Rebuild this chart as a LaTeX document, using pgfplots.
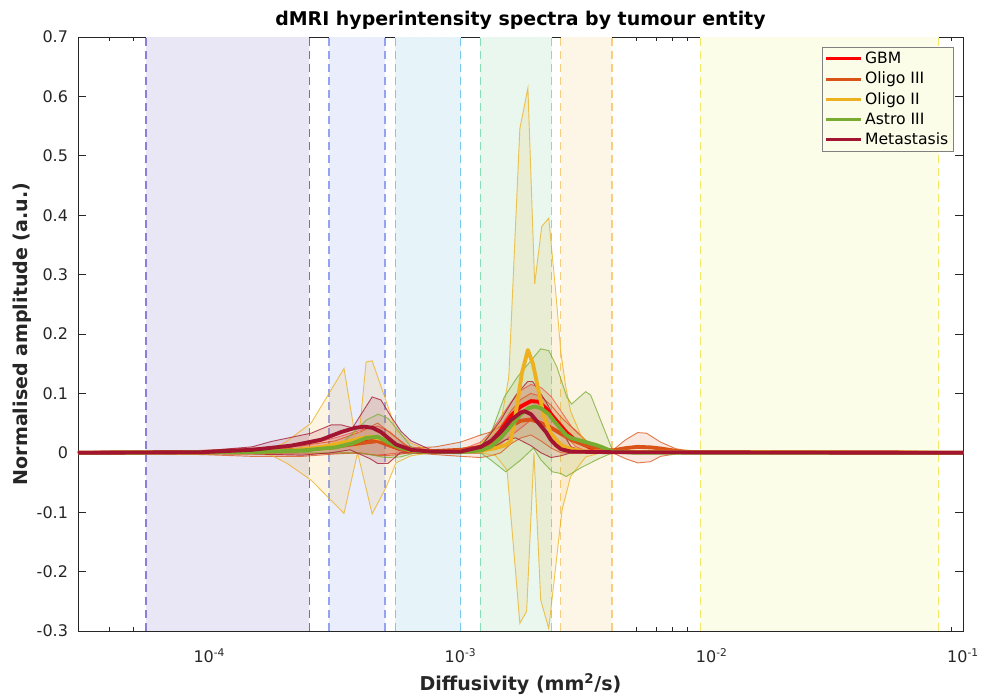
\documentclass[border=0pt]{standalone}
\usepackage{fontspec}
\setmainfont{DejaVu Sans}
\usepackage{pgfplots}
\pgfplotsset{compat=1.18}

\definecolor{cGBM}{RGB}{255,0,0}
\definecolor{cOthree}{RGB}{217,83,25}
\definecolor{cOtwo}{RGB}{237,177,32}
\definecolor{cAthree}{RGB}{119,172,48}
\definecolor{cMet}{RGB}{162,20,47}
\definecolor{axc}{RGB}{38,38,38}
\definecolor{bA}{HTML}{E9E6F5}\definecolor{lA}{HTML}{8A80DA}
\definecolor{bB}{HTML}{EAEEFC}\definecolor{lB}{HTML}{93A3F2}
\definecolor{bC}{HTML}{E6F4FA}\definecolor{lC}{HTML}{78CBEC}
\definecolor{bD}{HTML}{E9F7EF}\definecolor{lD}{HTML}{88DEB6}
\definecolor{bE}{HTML}{FDF5E6}\definecolor{lE}{HTML}{F7CD80}
\definecolor{bF}{HTML}{FBFDE8}\definecolor{lF}{HTML}{F2EA66}

\pgfplotsset{
  bandline/.style={line width=1.1pt, dash pattern=on 6pt off 3.75pt, forget plot},
  env/.style={line width=0.7pt, draw opacity=0.75, forget plot},
  envfill/.style={fill opacity=0.13, draw=none, forget plot},
  meanline/.style={line width=2.9pt, line join=round},
}

\begin{document}
\begin{tikzpicture}
\begin{axis}[
  width=663.75pt, height=445.5pt, scale only axis,
  xmin=-4.5229, xmax=-1, ymin=-0.3, ymax=0.7,
  xtick={-4,-3,-2,-1},
  xticklabels={10\textsuperscript{-4},10\textsuperscript{-3},10\textsuperscript{-2},10\textsuperscript{-1}},
  minor xtick={-4.3979,-4.3010,-4.2218,-4.1549,-4.0969,-4.0458,
    -3.6990,-3.5229,-3.3979,-3.3010,-3.2218,-3.1549,-3.0969,-3.0458,
    -2.6990,-2.5229,-2.3979,-2.3010,-2.2218,-2.1549,-2.0969,-2.0458,
    -1.6990,-1.5229,-1.3979,-1.3010,-1.2218,-1.1549,-1.0969,-1.0458},
  ytick={-0.3,-0.2,-0.1,0,0.1,0.2,0.3,0.4,0.5,0.6,0.7},
  yticklabels={-0.3,-0.2,-0.1,0,0.1,0.2,0.3,0.4,0.5,0.6,0.7},
  tick align=inside, major tick length=6pt, minor tick length=3pt,
  axis line style={axc, line width=0.6pt},
  every tick/.style={axc, line width=0.6pt},
  ticklabel style={font=\fontsize{12}{14}\selectfont, text=axc},
  xticklabel style={yshift=-10pt},
  yticklabel style={xshift=-4pt},
  every axis title shift=0pt,
  title={dMRI hyperintensity spectra by tumour entity},
  title style={font=\bfseries\fontsize{14.2}{17}\selectfont, at={(axis description cs:0.5,1.0286)}, anchor=center},
  xlabel={Diffusivity (mm\textsuperscript{2}/s)},
  ylabel={Normalised amplitude (a.u.)},
  every axis x label/.style={at={(axis description cs:0.5,-0.089)}, anchor=center, font=\bfseries\fontsize{14.3}{17}\selectfont, text=axc},
  every axis y label/.style={at={(axis description cs:-0.0633,0.5)}, rotate=90, anchor=center, font=\bfseries\fontsize{14.3}{17}\selectfont, text=axc},
  legend cell align=left,
  legend image code/.code={\draw[#1, solid, draw opacity=1, line width=2.3pt] (0pt,0pt) -- (26pt,0pt);},
  legend style={at={(axis description cs:0.9898,0.983)}, anchor=north east,
    draw=gray, line width=0.6pt, fill=bF, font=\fontsize{11.7}{14}\selectfont,
    inner xsep=2pt, inner ysep=1.5pt, row sep=0.8pt},
]
\coordinate (BL) at (rel axis cs:0,0);
\coordinate (TR) at (rel axis cs:1,1);

% ---- diffusivity bands ----
\addplot[fill=bA, draw=none, forget plot] coordinates {(-4.252,-0.3) (-3.602,-0.3) (-3.602,0.7) (-4.252,0.7)};
\addplot[fill=bB, draw=none, forget plot] coordinates {(-3.523,-0.3) (-3.301,-0.3) (-3.301,0.7) (-3.523,0.7)};
\addplot[fill=bC, draw=none, forget plot] coordinates {(-3.260,-0.3) (-3.000,-0.3) (-3.000,0.7) (-3.260,0.7)};
\addplot[fill=bD, draw=none, forget plot] coordinates {(-2.921,-0.3) (-2.638,-0.3) (-2.638,0.7) (-2.921,0.7)};
\addplot[fill=bE, draw=none, forget plot] coordinates {(-2.602,-0.3) (-2.398,-0.3) (-2.398,0.7) (-2.602,0.7)};
\addplot[fill=bF, draw=none, forget plot] coordinates {(-2.046,-0.3) (-1.097,-0.3) (-1.097,0.7) (-2.046,0.7)};
\addplot[lA, bandline] coordinates {(-4.252,-0.3) (-4.252,0.7)};
\addplot[lA!85!black, bandline] coordinates {(-3.602,-0.3) (-3.602,0.7)};
\addplot[lB, bandline] coordinates {(-3.523,-0.3) (-3.523,0.7)};
\addplot[lB, bandline] coordinates {(-3.301,-0.3) (-3.301,0.7)};
\addplot[lC, bandline] coordinates {(-3.260,-0.3) (-3.260,0.7)};
\addplot[lC, bandline] coordinates {(-3.000,-0.3) (-3.000,0.7)};
\addplot[lD, bandline] coordinates {(-2.921,-0.3) (-2.921,0.7)};
\addplot[lD, bandline] coordinates {(-2.638,-0.3) (-2.638,0.7)};
\addplot[lE, bandline] coordinates {(-2.602,-0.3) (-2.602,0.7)};
\addplot[lE, bandline] coordinates {(-2.398,-0.3) (-2.398,0.7)};
\addplot[lF, bandline] coordinates {(-2.046,-0.3) (-2.046,0.7)};
\addplot[lF, bandline] coordinates {(-1.097,-0.3) (-1.097,0.7)};

% ---- shaded spreads (upper edge, then lower edge backwards) ----
\addplot[envfill, fill=cGBM] coordinates {
(-4.0,0) (-3.83,0.003) (-3.63,0.012) (-3.50,0.025) (-3.40,0.038) (-3.33,0.045) (-3.28,0.035) (-3.22,0.012) (-3.12,0.004) (-3.00,0.005) (-2.92,0.018) (-2.88,0.035) (-2.84,0.06) (-2.80,0.085) (-2.76,0.105) (-2.72,0.115) (-2.68,0.11) (-2.64,0.095) (-2.60,0.07) (-2.56,0.045) (-2.50,0.02) (-2.40,0.004) (-2.3,0)
(-2.48,0) (-2.54,0.01) (-2.60,0.035) (-2.66,0.05) (-2.72,0.055) (-2.78,0.035) (-2.84,0.015) (-2.92,0) (-3.24,0) (-3.33,-0.004) (-3.45,0) (-3.63,-0.002) (-4.0,0)};
\addplot[envfill, fill=cOthree] coordinates {
(-4.5229,0) (-4.03,0.004) (-3.83,0.008) (-3.63,0.012) (-3.50,0.02) (-3.40,0.035) (-3.33,0.05) (-3.27,0.03) (-3.20,0.008) (-3.10,0.01) (-3.00,0.018) (-2.92,0.03) (-2.88,0.035) (-2.84,0.045) (-2.80,0.07) (-2.76,0.09) (-2.72,0.1) (-2.68,0.095) (-2.64,0.08) (-2.60,0.06) (-2.55,0.04) (-2.50,0.02) (-2.44,0.008) (-2.395,0.004) (-2.343,0.022) (-2.295,0.034) (-2.26,0.033) (-2.204,0.018) (-2.144,0.007) (-2.085,0.002) (-2.0,0)
(-2.085,0) (-2.144,-0.002) (-2.204,-0.006) (-2.244,-0.015) (-2.295,-0.017) (-2.343,-0.01) (-2.395,0) (-2.60,0) (-2.64,0.008) (-2.68,0.02) (-2.72,0.03) (-2.76,0.025) (-2.80,0.015) (-2.84,0) (-2.88,-0.005) (-2.92,-0.008) (-3.00,-0.006) (-3.20,0) (-3.27,-0.004) (-3.33,-0.005) (-3.40,0) (-3.50,-0.002) (-3.63,-0.006) (-3.83,-0.006) (-4.03,-0.003) (-4.5229,0)};
\addplot[envfill, fill=cOtwo] coordinates {
(-3.9,0) (-3.80,0.002) (-3.754,0.004) (-3.69,0.02) (-3.595,0.05) (-3.464,0.142) (-3.410,0.003) (-3.376,0.153) (-3.352,0.155) (-3.289,0.078) (-3.257,0.038) (-3.197,0.016) (-3.118,0.003) (-2.96,0.003) (-2.88,0.03) (-2.84,0.05) (-2.808,0.128) (-2.764,0.546) (-2.732,0.614) (-2.705,0.284) (-2.677,0.381) (-2.649,0.395) (-2.621,0.27) (-2.601,0.17) (-2.581,0.11) (-2.562,0.07) (-2.522,0.03) (-2.482,0.012) (-2.40,0.002) (-2.3,0)
(-2.44,0) (-2.502,-0.007) (-2.562,-0.040) (-2.596,-0.096) (-2.649,-0.296) (-2.681,-0.248) (-2.708,0) (-2.737,-0.267) (-2.764,-0.287) (-2.815,-0.029) (-2.86,-0.005) (-2.92,0) (-3.118,0) (-3.197,-0.005) (-3.257,-0.017) (-3.295,-0.057) (-3.352,-0.103) (-3.410,0) (-3.464,-0.102) (-3.595,-0.046) (-3.69,-0.018) (-3.754,-0.004) (-3.80,-0.002) (-3.9,0)};
\addplot[envfill, fill=cAthree] coordinates {
(-3.7,0) (-3.60,0.002) (-3.475,0.015) (-3.40,0.045) (-3.376,0.055) (-3.328,0.065) (-3.289,0.058) (-3.249,0.038) (-3.197,0.01) (-3.16,0.002) (-2.96,0.003) (-2.919,0.012) (-2.879,0.033) (-2.826,0.094) (-2.773,0.128) (-2.681,0.175) (-2.649,0.172) (-2.617,0.145) (-2.577,0.094) (-2.558,0.082) (-2.502,0.103) (-2.482,0.097) (-2.395,0.004) (-2.35,0)
(-2.395,0) (-2.45,-0.01) (-2.52,-0.025) (-2.58,-0.04) (-2.60,-0.035) (-2.635,-0.032) (-2.68,-0.012) (-2.71,0.008) (-2.76,-0.012) (-2.82,-0.032) (-2.88,-0.012) (-2.92,0) (-3.18,0) (-3.24,-0.007) (-3.30,-0.008) (-3.40,0) (-3.7,0)};
\addplot[envfill, fill=cMet] coordinates {
(-4.5229,0) (-4.03,0.003) (-3.83,0.01) (-3.754,0.019) (-3.595,0.033) (-3.515,0.047) (-3.475,0.047) (-3.43,0.042) (-3.352,0.094) (-3.317,0.089) (-3.277,0.061) (-3.237,0.036) (-3.197,0.02) (-3.118,0.005) (-2.96,0.005) (-2.919,0.01) (-2.84,0.055) (-2.78,0.097) (-2.733,0.12) (-2.713,0.12) (-2.66,0.086) (-2.60,0.038) (-2.56,0.01) (-2.50,0.002) (-2.45,0)
(-2.56,0) (-2.60,-0.005) (-2.64,-0.008) (-2.68,0) (-2.72,0.012) (-2.78,0.025) (-2.82,0.022) (-2.86,0.012) (-2.92,0) (-3.24,0) (-3.289,-0.018) (-3.33,-0.018) (-3.36,-0.01) (-3.44,0.005) (-3.515,0) (-3.63,-0.004) (-3.83,-0.002) (-4.5229,0)};

% ---- spread edges ----
\addplot[cGBM, env, draw opacity=0.45] table {
-4.5229 0
-3.83 0.003
-3.63 0.012
-3.50 0.025
-3.40 0.038
-3.33 0.045
-3.28 0.035
-3.22 0.012
-3.12 0.004
-3.00 0.005
-2.92 0.018
-2.88 0.035
-2.84 0.06
-2.80 0.085
-2.76 0.105
-2.72 0.115
-2.68 0.11
-2.64 0.095
-2.60 0.07
-2.56 0.045
-2.50 0.02
-2.40 0.004
-1 0
};
\addplot[cGBM, env, draw opacity=0.45] table {
-4.5229 0
-3.63 -0.002
-3.45 0.0
-3.33 -0.004
-3.24 0
-2.92 0
-2.84 0.015
-2.78 0.035
-2.72 0.055
-2.66 0.05
-2.60 0.035
-2.54 0.01
-2.48 0
-1 0
};
\addplot[cOthree, env] table {
-4.5229 0
-4.03 0.004
-3.83 0.008
-3.63 0.012
-3.50 0.02
-3.40 0.035
-3.33 0.05
-3.27 0.03
-3.20 0.008
-3.10 0.01
-3.00 0.018
-2.92 0.03
-2.88 0.035
-2.84 0.045
-2.80 0.07
-2.76 0.09
-2.72 0.1
-2.68 0.095
-2.64 0.08
-2.60 0.06
-2.55 0.04
-2.50 0.02
-2.44 0.008
-2.395 0.004
-2.343 0.022
-2.295 0.034
-2.26 0.033
-2.204 0.018
-2.144 0.007
-2.085 0.002
-1 0
};
\addplot[cOthree, env] table {
-4.5229 0
-4.03 -0.003
-3.83 -0.006
-3.63 -0.006
-3.50 -0.002
-3.40 0.0
-3.33 -0.005
-3.27 -0.004
-3.20 0.0
-3.00 -0.006
-2.92 -0.008
-2.88 -0.005
-2.84 0.0
-2.80 0.015
-2.76 0.025
-2.72 0.03
-2.68 0.02
-2.64 0.008
-2.60 0.0
-2.395 0.0
-2.343 -0.01
-2.295 -0.017
-2.244 -0.015
-2.204 -0.006
-2.144 -0.002
-2.085 0
-1 0
};
\addplot[cOtwo, env] table {
-4.5229 0
-3.80 0.002
-3.754 0.004
-3.69 0.02
-3.595 0.05
-3.464 0.142
-3.410 0.003
-3.376 0.153
-3.352 0.155
-3.289 0.078
-3.257 0.038
-3.197 0.016
-3.118 0.003
-2.96 0.003
-2.88 0.03
-2.84 0.05
-2.808 0.128
-2.764 0.546
-2.732 0.614
-2.705 0.284
-2.677 0.381
-2.649 0.395
-2.621 0.27
-2.601 0.17
-2.581 0.11
-2.562 0.07
-2.522 0.03
-2.482 0.012
-2.40 0.002
-1 0
};
\addplot[cOtwo, env] table {
-4.5229 0
-3.80 -0.002
-3.754 -0.004
-3.69 -0.018
-3.595 -0.046
-3.464 -0.102
-3.410 0.0
-3.352 -0.103
-3.295 -0.057
-3.257 -0.017
-3.197 -0.005
-3.118 0
-2.92 0
-2.86 -0.005
-2.815 -0.029
-2.764 -0.287
-2.737 -0.267
-2.708 0.0
-2.681 -0.248
-2.649 -0.296
-2.596 -0.096
-2.562 -0.040
-2.502 -0.007
-2.44 0
-1 0
};
\addplot[cAthree, env] table {
-4.5229 0
-3.60 0.002
-3.475 0.015
-3.40 0.045
-3.376 0.055
-3.328 0.065
-3.289 0.058
-3.249 0.038
-3.197 0.01
-3.16 0.002
-2.96 0.003
-2.919 0.012
-2.879 0.033
-2.826 0.094
-2.773 0.128
-2.681 0.175
-2.649 0.172
-2.617 0.145
-2.577 0.094
-2.558 0.082
-2.502 0.103
-2.482 0.097
-2.395 0.004
-1 0
};
\addplot[cAthree, env] table {
-4.5229 0
-3.40 0
-3.30 -0.008
-3.24 -0.007
-3.18 0
-2.92 0
-2.88 -0.012
-2.82 -0.032
-2.76 -0.012
-2.71 0.008
-2.68 -0.012
-2.635 -0.032
-2.60 -0.035
-2.58 -0.04
-2.52 -0.025
-2.45 -0.01
-2.395 0
-1 0
};
\addplot[cMet, env] table {
-4.5229 0
-4.03 0.003
-3.83 0.01
-3.754 0.019
-3.595 0.033
-3.515 0.047
-3.475 0.047
-3.43 0.042
-3.352 0.094
-3.317 0.089
-3.277 0.061
-3.237 0.036
-3.197 0.02
-3.118 0.005
-2.96 0.005
-2.919 0.01
-2.84 0.055
-2.78 0.097
-2.733 0.12
-2.713 0.12
-2.66 0.086
-2.60 0.038
-2.56 0.01
-2.50 0.002
-1 0
};
\addplot[cMet, env] table {
-4.5229 0
-3.83 -0.002
-3.63 -0.004
-3.515 0.0
-3.44 0.005
-3.36 -0.01
-3.33 -0.018
-3.289 -0.018
-3.24 0
-2.92 0
-2.86 0.012
-2.82 0.022
-2.78 0.025
-2.72 0.012
-2.68 0.0
-2.64 -0.008
-2.60 -0.005
-2.56 0
-1 0
};

% ---- mean spectra ----
\addplot[cGBM, meanline] table {
-4.5229 0
-3.83 0.001
-3.63 0.005
-3.50 0.012
-3.40 0.018
-3.33 0.02
-3.29 0.014
-3.24 0.006
-3.16 0.002
-3.00 0.002
-2.92 0.008
-2.88 0.018
-2.84 0.038
-2.80 0.062
-2.76 0.078
-2.72 0.087
-2.69 0.086
-2.66 0.075
-2.62 0.055
-2.58 0.035
-2.54 0.02
-2.48 0.008
-2.40 0.002
-2.30 0.001
-1 0
};
\addlegendentry{GBM}
\addplot[cOthree, meanline] table {
-4.5229 0
-3.83 0.002
-3.63 0.005
-3.50 0.01
-3.40 0.016
-3.33 0.02
-3.28 0.012
-3.22 0.004
-3.10 0.003
-3.00 0.005
-2.92 0.01
-2.88 0.018
-2.84 0.03
-2.80 0.045
-2.76 0.054
-2.72 0.056
-2.68 0.05
-2.64 0.042
-2.60 0.032
-2.56 0.022
-2.50 0.012
-2.44 0.006
-2.395 0.004
-2.34 0.008
-2.295 0.010
-2.24 0.009
-2.20 0.007
-2.14 0.003
-2.08 0.001
-1.97 0.001
-1 0
};
\addlegendentry{Oligo III}
\addplot[cOtwo, meanline] table {
-4.5229 0
-3.83 0.001
-3.67 0.004
-3.55 0.01
-3.46 0.018
-3.40 0.024
-3.36 0.027
-3.30 0.022
-3.25 0.012
-3.20 0.004
-3.10 0.001
-2.92 0.003
-2.86 0.008
-2.82 0.013
-2.80 0.02
-2.78 0.067
-2.756 0.134
-2.732 0.173
-2.712 0.15
-2.693 0.111
-2.668 0.061
-2.641 0.033
-2.601 0.013
-2.56 0.006
-2.50 0.002
-1 0
};
\addlegendentry{Oligo II}
\addplot[cAthree, meanline] table {
-4.5229 0
-3.83 0.001
-3.63 0.004
-3.50 0.009
-3.43 0.016
-3.376 0.025
-3.33 0.027
-3.29 0.018
-3.24 0.008
-3.16 0.002
-3.00 0.001
-2.92 0.004
-2.88 0.01
-2.84 0.025
-2.80 0.045
-2.76 0.065
-2.73 0.075
-2.705 0.078
-2.68 0.075
-2.649 0.065
-2.625 0.052
-2.58 0.03
-2.56 0.025
-2.51 0.019
-2.46 0.013
-2.44 0.010
-2.395 0.002
-2.30 0
-1 0
};
\addlegendentry{Astro III}
\addplot[cMet, meanline] table {
-4.5229 0
-4.03 0.001
-3.83 0.005
-3.674 0.012
-3.555 0.022
-3.475 0.035
-3.42 0.042
-3.384 0.044
-3.35 0.042
-3.317 0.035
-3.28 0.022
-3.257 0.014
-3.197 0.005
-3.118 0.002
-3.00 0.002
-2.919 0.01
-2.879 0.02
-2.84 0.035
-2.80 0.055
-2.76 0.068
-2.745 0.07
-2.72 0.065
-2.69 0.05
-2.66 0.035
-2.641 0.022
-2.621 0.013
-2.60 0.006
-2.56 0.002
-2.40 0.001
-1 0
};
\addlegendentry{Metastasis}
\end{axis}
\pgfresetboundingbox
\useasboundingbox ([shift={(-58.5pt,-48pt)}]BL) rectangle ([shift={(15.75pt,27.75pt)}]TR);
\end{tikzpicture}
\end{document}
